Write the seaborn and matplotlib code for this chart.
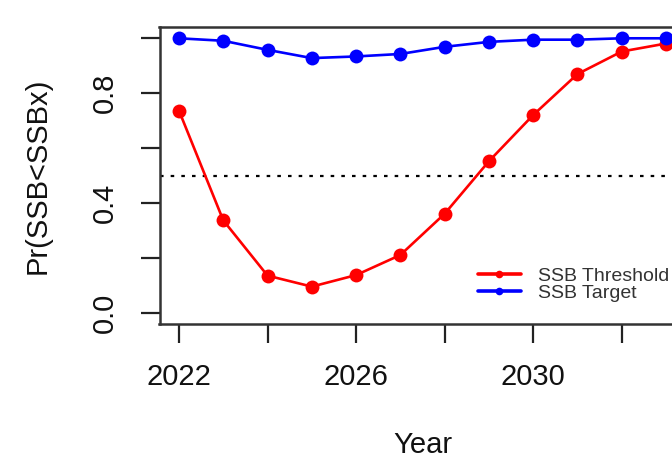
import matplotlib
matplotlib.use("Agg")
import matplotlib.pyplot as plt
import seaborn as sns
import pandas as pd

# Projection years
years = [2022, 2023, 2024, 2025, 2026, 2027, 2028, 2029, 2030, 2031, 2032, 2033]

# Probability that SSB falls below each reference point
p_threshold = [0.737, 0.338, 0.137, 0.097, 0.139, 0.212, 0.362, 0.553, 0.721, 0.870, 0.952, 0.981]
p_target = [1.000, 0.991, 0.958, 0.928, 0.934, 0.943, 0.969, 0.987, 0.995, 0.995, 1.000, 1.000]

series_names = ["SSB Threshold", "SSB Target"]
series_colors = ["#ff0000", "#0000ff"]
ref_level = 0.5

x_ticks = [2022, 2024, 2026, 2028, 2030, 2032]
x_tick_labels = ["2022", "", "2026", "", "2030", ""]
y_ticks = [0.0, 0.2, 0.4, 0.6, 0.8, 1.0]
y_tick_labels = ["0.0", "", "0.4", "", "0.8", ""]

df = pd.DataFrame({
    "Year": years * 2,
    "p": p_threshold + p_target,
    "series": [series_names[0]] * len(years) + [series_names[1]] * len(years),
})

sns.set_theme(style="ticks")
plt.rcParams["font.family"] = ["Liberation Sans", "DejaVu Sans"]

fig = plt.figure(figsize=(6.72, 4.67), dpi=100)
W, H = 672, 467
left, right, top, bottom = 159.5, 685.5, 27.3, 324.3
ax = fig.add_axes([left / W, (H - bottom) / H, (right - left) / W, (bottom - top) / H])

sns.lineplot(
    data=df, x="Year", y="p", hue="series",
    palette=dict(zip(series_names, series_colors)),
    marker="o", markersize=10, markeredgewidth=0, linewidth=1.9,
    ax=ax, clip_on=False,
)

ax.axhline(ref_level, color="black", linewidth=1.6, linestyle=(0, (1.6, 3.2)), zorder=1)

ax.set_xlim(2021.56, 2033.44)
ax.set_ylim(-0.04, 1.04)

ax.set_xticks(x_ticks)
ax.set_xticklabels(x_tick_labels)
ax.set_yticks(y_ticks)
ax.set_yticklabels(y_tick_labels, rotation=90, va="center")

ax.tick_params(axis="both", length=14, width=1.6, color="#222222",
               labelsize=21, labelcolor="#111111")
ax.tick_params(axis="x", pad=14)
ax.tick_params(axis="y", pad=15)

for sp in ax.spines.values():
    sp.set_linewidth(1.8)
    sp.set_color("#333333")
    sp.set_visible(True)

ax.set_xlabel("Year", fontsize=21, color="#111111", va="top")
ax.xaxis.set_label_coords(0.5, -0.36)
ax.set_ylabel("Pr(SSB<SSBx)", fontsize=21, color="#111111", va="center")
ax.yaxis.set_label_coords(-0.231, 0.5)

leg = ax.legend(
    loc="center left", bbox_to_anchor=(0.6055, 0.133), frameon=False,
    fontsize=14, handlelength=2.2, handletextpad=0.9, labelspacing=-0.05,
    borderpad=0, borderaxespad=0, markerscale=0.55,
)
for line in leg.get_lines():
    line.set_linewidth(2.6)
for t in leg.get_texts():
    t.set_color("#333333")

fig.savefig("out.png", dpi=100)
